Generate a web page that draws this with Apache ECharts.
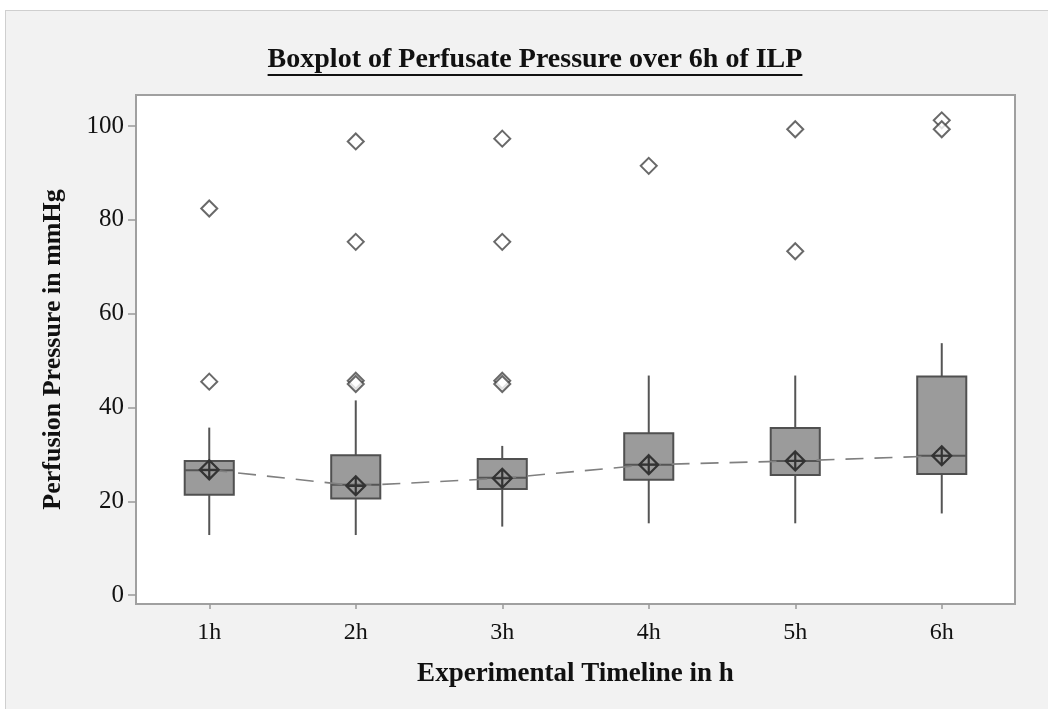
<!DOCTYPE html>
<html><head><meta charset="utf-8">
<script src="https://cdn.jsdelivr.net/npm/echarts@6/dist/echarts.min.js"></script>
<style>
html,body{margin:0;padding:0;background:#fff;width:1048px;height:709px;overflow:hidden}
#frame{position:absolute;left:5px;top:10px;width:1100px;height:800px;background:#f2f2f2;border:1px solid #cfcfcf;box-sizing:border-box}
#chart{position:absolute;left:0;top:0;width:1048px;height:709px}
</style></head><body><div id="frame"></div><div id="chart"></div>
<script>
const categories = ['1h','2h','3h','4h','5h','6h'];
const whiskerLow = [12.8,12.8,14.6,15.3,15.3,17.4];
const q1 = [21.4,20.6,22.6,24.6,25.6,25.8];
const median = [26.6,23.5,25.0,27.8,28.6,29.7];
const q3 = [28.6,29.8,29.0,34.5,35.6,46.6];
const whiskerHigh = [35.7,41.5,31.8,46.8,46.8,53.7];
const means = [26.7,23.3,24.9,27.8,28.6,29.7];
const outlierCategory = ['1h','1h','2h','2h','2h','2h','3h','3h','3h','3h','4h','5h','5h','6h','6h'];
const outlierValue = [82.4,45.5,96.7,75.3,45.7,45.0,97.3,75.3,45.7,45.0,91.5,99.3,73.3,101.2,99.3];
const yTicks = [0,20,40,60,80,100];

const titleText = 'Boxplot of Perfusate Pressure over 6h of ILP';
const serif = '"Liberation Serif","Times New Roman",serif';
const titleFont = 'bold 28px ' + serif;
const mctx = document.createElement('canvas').getContext('2d');
mctx.font = titleFont;
const titleW = mctx.measureText(titleText).width;
const titleCx = 535;

const chart = echarts.init(document.getElementById('chart'), null, {renderer:'canvas'});
const boxData = categories.map((c,i)=>[i, whiskerLow[i], q1[i], median[i], q3[i], whiskerHigh[i]]);

chart.setOption({
  animation:false,
  backgroundColor:'transparent',
  textStyle:{fontFamily:serif},
  graphic:[
    {type:'text', x:titleCx, y:60, style:{text:titleText, font:titleFont, fill:'#111', align:'center', verticalAlign:'middle'}},
    {type:'line', shape:{x1:titleCx-titleW/2, y1:75, x2:titleCx+titleW/2, y2:75}, style:{stroke:'#111', lineWidth:2}}
  ],
  grid:{left:136, right:33, top:95, bottom:105, show:true, backgroundColor:'#fff', borderColor:'#a0a0a0', borderWidth:2},
  xAxis:{
    type:'category', data:categories, boundaryGap:true,
    name:'Experimental Timeline in h', nameLocation:'middle', nameGap:57,
    nameTextStyle:{fontFamily:serif, fontWeight:'bold', fontSize:27, color:'#111'},
    axisLine:{show:false, onZero:false},
    axisTick:{show:true, alignWithLabel:true, length:5, lineStyle:{color:'#999', width:1.5}},
    axisLabel:{margin:17, fontFamily:serif, fontSize:24, color:'#111'},
    splitLine:{show:false}
  },
  yAxis:{
    type:'value', min:-1.9, max:106.6,
    name:'Perfusion Pressure in mmHg', nameLocation:'middle', nameGap:70, nameRotate:90,
    nameTextStyle:{fontFamily:serif, fontWeight:'bold', fontSize:26, color:'#111'},
    axisLine:{show:false, onZero:false},
    axisTick:{show:true, length:8, customValues:yTicks, lineStyle:{color:'#999', width:1.5}},
    axisLabel:{margin:12, fontFamily:serif, fontSize:25, color:'#111', customValues:yTicks},
    splitLine:{show:false}
  },
  series:[
    {
      type:'custom', data:boxData, encode:{x:0, y:[1,2,3,4,5]}, z:2,
      renderItem:function(params, api){
        const x = api.value(0);
        const lo = api.coord([x, api.value(1)]);
        const b = api.coord([x, api.value(2)]);
        const m = api.coord([x, api.value(3)]);
        const t = api.coord([x, api.value(4)]);
        const hi = api.coord([x, api.value(5)]);
        const w = api.size([1,0])[0]*0.335;
        const cx = lo[0];
        const ls = {stroke:'#555', lineWidth:2};
        return {type:'group', children:[
          {type:'line', shape:{x1:cx,y1:hi[1],x2:cx,y2:t[1]}, style:ls},
          {type:'line', shape:{x1:cx,y1:b[1],x2:cx,y2:lo[1]}, style:ls},
          {type:'rect', shape:{x:cx-w/2,y:t[1],width:w,height:b[1]-t[1]}, style:{fill:'#9b9b9b',stroke:'#505050',lineWidth:2}},
          {type:'line', shape:{x1:cx-w/2,y1:m[1],x2:cx+w/2,y2:m[1]}, style:ls}
        ]};
      }
    },
    {
      type:'line', data:means, z:3,
      symbol:'path://M10,0 L20,10 L10,20 L0,10 Z M10,0 L10,20 M0,10 L20,10',
      symbolSize:19, showAllSymbol:true,
      itemStyle:{color:'rgba(0,0,0,0)', borderColor:'#333', borderWidth:2.2},
      lineStyle:{color:'#808080', width:1.6, type:[18,11]}
    },
    {
      type:'scatter', z:4,
      data:outlierCategory.map((c,i)=>[c, outlierValue[i]]),
      symbol:'diamond', symbolSize:16,
      itemStyle:{color:'#fff', borderColor:'#444', borderWidth:2}
    }
  ]
});
</script></body></html>
